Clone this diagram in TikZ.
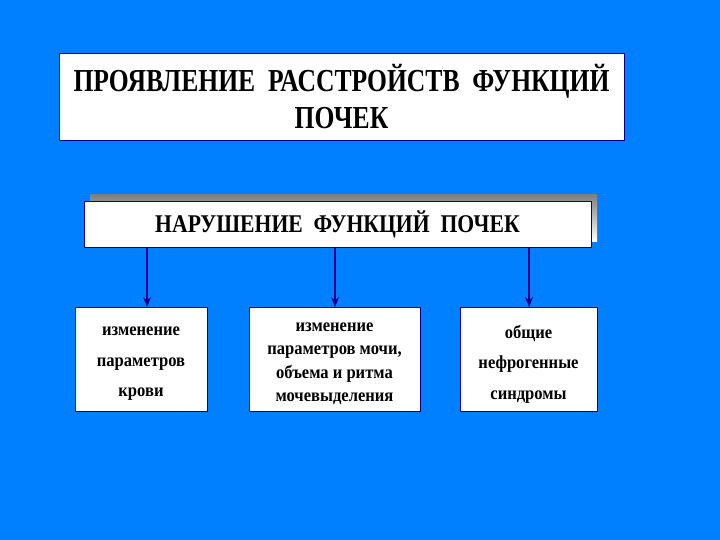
\documentclass[tikz,border=0pt]{standalone}
\usepackage{fontspec}
\usetikzlibrary{arrows.meta}
\setmainfont{Liberation Serif}
\newfontfamily\condA[FakeStretch=0.8]{Liberation Serif}
\newfontfamily\condB[FakeStretch=0.85]{Liberation Serif}
\newfontfamily\condC[FakeStretch=0.9]{Liberation Serif}
\definecolor{bgblue}{RGB}{0,128,255}
\definecolor{navy}{RGB}{0,0,140}
\definecolor{shade}{RGB}{128,128,128}
\begin{document}
\begin{tikzpicture}[x=1pt,y=-1pt,
  wbox/.style={draw=navy,line width=0.8pt,fill=white,inner sep=0pt,outer sep=0pt},
  sub/.style={wbox,minimum height=104pt},
  subtext/.style={align=center,inner sep=0pt,font=\condC\bfseries\fontsize{18.4}{23.5}\selectfont},
  arr/.style={draw=navy,line width=1.6pt,-{Stealth[length=10pt,width=8pt]}}]
\fill[bgblue] (0,0) rectangle (720,540);
\useasboundingbox (0,0) rectangle (720,540);
% title
\node[wbox,minimum width=565pt,minimum height=87pt,align=center,
  font=\condA\bfseries\fontsize{32}{37}\selectfont] (title) at (341.5,96.5)
  {ПРОЯВЛЕНИЕ\ \ РАССТРОЙСТВ\ \ ФУНКЦИЙ\\ПОЧЕК};
% main box with shadow
\fill[shade] (90,195) rectangle (597,241);
\node[wbox,minimum width=507pt,minimum height=46pt,
  font=\condB\bfseries\fontsize{25.5}{29}\selectfont] (main) at (337.5,224)
  {НАРУШЕНИЕ\ \ ФУНКЦИЙ\ \ ПОЧЕК};
% sub boxes
\node[sub,minimum width=132pt] (b1) at (141,359) {};
\node[sub,minimum width=171pt] (b2) at (334.5,359) {};
\node[sub,minimum width=137pt] (b3) at (528.5,359) {};
\node[subtext] (t1) at ([yshift=-5pt]b1.center) {изменение\\[7pt]параметров\\[7pt]крови};
\node[subtext] (t2) at ([yshift=-5pt]b2.center) {изменение\\параметров мочи,\\объема и ритма\\мочевыделения};
\node[subtext] (t3) at ([yshift=-5pt]b3.center) {общие\\[7pt]нефрогенные\\[7pt]синдромы};
% arrows
\draw[arr] (main.south -| 147,0) -- (b1.north -| 147,0);
\draw[arr] (main.south -| 335,0) -- (b2.north -| 335,0);
\draw[arr] (main.south -| 529,0) -- (b3.north -| 529,0);
\end{tikzpicture}
\end{document}
